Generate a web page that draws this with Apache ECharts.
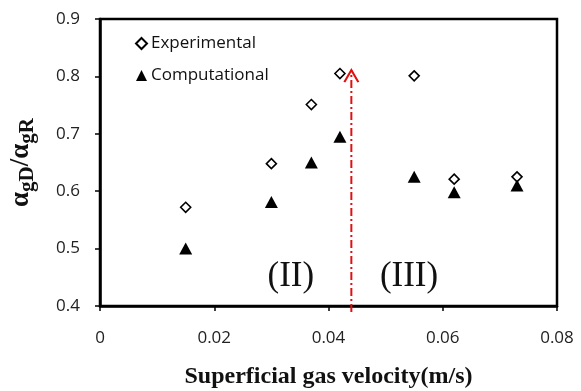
<!DOCTYPE html>
<html><head><meta charset="utf-8">
<script src="https://cdn.jsdelivr.net/npm/echarts@6/dist/echarts.min.js"></script>
<style>html,body{margin:0;padding:0;background:#fff}#c{width:581px;height:391px}</style>
</head><body><div id="c"></div>
<script>
const xTicks = [0, 0.02, 0.04, 0.06, 0.08];
const yTicks = [0.4, 0.5, 0.6, 0.7, 0.8, 0.9];
const expX = [0.015, 0.030, 0.037, 0.042, 0.055, 0.062, 0.073];
const expY = [0.572, 0.648, 0.751, 0.805, 0.801, 0.621, 0.625];
const compX = [0.015, 0.030, 0.037, 0.042, 0.055, 0.062, 0.073];
const compY = [0.500, 0.581, 0.650, 0.695, 0.625, 0.598, 0.610];
const transitionX = 0.044;
const arrowY = [0.3895, 0.811];
const regionLabels = ['(II)', '(III)'];
const regionX = [0.0334, 0.0541];
const regionY = [0.451, 0.451];

const chart = echarts.init(document.getElementById('c'), null, {renderer: 'canvas'});
const sans = 'Open Sans';
const serif = 'Liberation Serif';
chart.setOption({
  animation: false,
  backgroundColor: '#fff',
  grid: {left: 100, right: 24, top: 19, bottom: 85, containLabel: false, outerBoundsMode: 'none',
    show: true, borderColor: '#000', borderWidth: 2.5, backgroundColor: 'transparent'},
  legend: {
    orient: 'vertical', left: 130, top: 30, itemWidth: 11, itemHeight: 11, itemGap: 15,
    textStyle: {fontFamily: sans, fontSize: 17, color: '#111', padding: [0,0,0,-1]},
    data: ['Experimental', 'Computational']
  },
  xAxis: {
    type: 'value', min: xTicks[0], max: xTicks[xTicks.length-1], interval: 0.02,
    axisLine: {show: true, onZero: false, lineStyle: {color: '#000', width: 2.5}},
    axisTick: {show: true, inside: false, length: 5, lineStyle: {color: '#000', width: 1.5}},
    splitLine: {show: false},
    axisLabel: {margin: 24, fontFamily: sans, fontSize: 17, color: '#222', formatter: v => String(+v.toFixed(2))},
    name: 'Superficial gas velocity(m/s)', nameLocation: 'middle', nameGap: 59,
    nameTextStyle: {fontFamily: serif, fontWeight: 'bold', fontSize: 24, color: '#111'}
  },
  yAxis: {
    type: 'value', min: yTicks[0], max: yTicks[yTicks.length-1], interval: 0.1,
    axisLine: {show: true, onZero: false, lineStyle: {color: '#000', width: 2.5}},
    axisTick: {show: true, inside: false, length: 5, lineStyle: {color: '#000', width: 1.5}},
    splitLine: {show: false},
    axisLabel: {margin: 20, fontFamily: sans, fontSize: 17, color: '#222', formatter: v => v.toFixed(1)},
    name: '{a|α}{s|gD}{a|/α}{s|gR}', nameLocation: 'middle', nameRotate: 90, nameGap: 62,
    nameTextStyle: {
      rich: {
        a: {fontFamily: serif, fontWeight: 'bold', fontSize: 27, color: '#111'},
        s: {fontFamily: serif, fontWeight: 'bold', fontSize: 21, color: '#111', padding: [12,0,0,0]}
      }
    }
  },
  series: [
    {
      name: 'Experimental', type: 'scatter',
      data: expX.map((x, i) => [x, expY[i]]),
      symbol: 'path://M5,0 L10,5 L5,10 L0,5 Z', symbolSize: 10,
      itemStyle: {color: '#fff', borderColor: '#000', borderWidth: 1.6, opacity: 1}
    },
    {
      name: 'Computational', type: 'scatter',
      data: compX.map((x, i) => [x, compY[i]]),
      symbol: 'triangle', symbolSize: [13, 12],
      itemStyle: {color: '#000', opacity: 1}
    },
    {
      type: 'line', clip: false, silent: true,
      data: [
        {value: [transitionX, arrowY[0]], symbol: 'none'},
        {value: [transitionX, arrowY[1]], symbol: 'path://M0,10 L5,0 L10,10', symbolSize: [14, 12], symbolOffset: [0, '50%'],
          itemStyle: {color: 'none', borderColor: '#e01010', borderWidth: 2}}
      ],
      lineStyle: {color: '#e01010', width: 2, type: [8, 3, 2, 3]},
      z: 1
    },
    {
      type: 'scatter', silent: true, symbol: 'circle', symbolSize: 1,
      itemStyle: {color: 'transparent', opacity: 1},
      data: regionLabels.map((t, i) => ({value: [regionX[i], regionY[i]], name: t})),
      label: {show: true, position: 'inside', formatter: p => p.name, fontFamily: serif, fontSize: 35, color: '#111', opacity: 1}
    }
  ]
});
</script></body></html>
